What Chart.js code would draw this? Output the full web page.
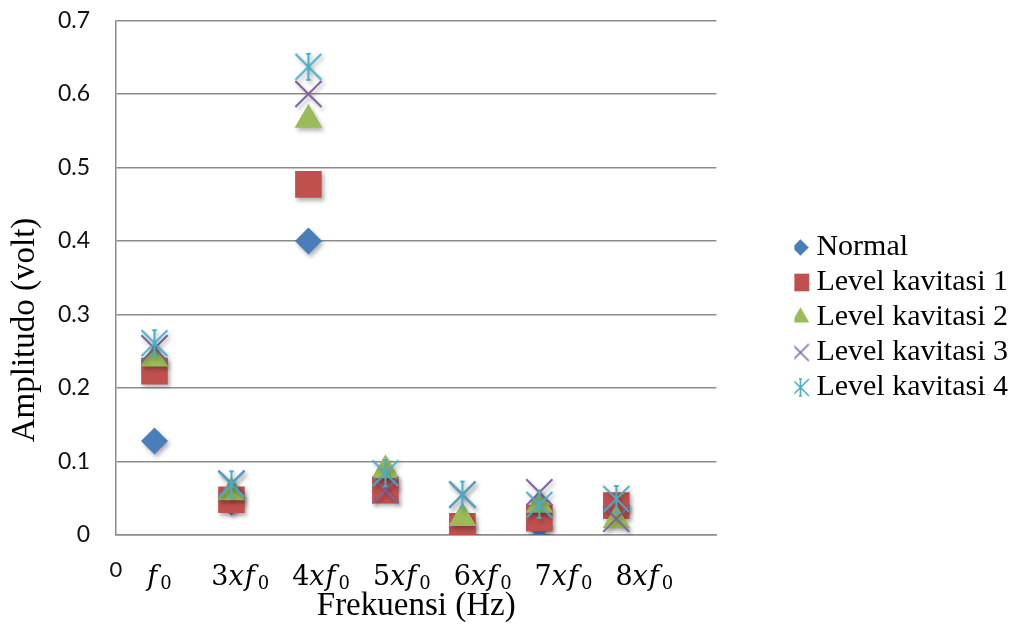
<!DOCTYPE html>
<html>
<head>
<meta charset="utf-8">
<title>Amplitudo vs Frekuensi</title>
<script src="https://cdn.jsdelivr.net/npm/chart.js@4.4.1/dist/chart.umd.min.js"></script>
<style>
  html, body { margin: 0; padding: 0; background: #fff; }
  #wrap { width: 1027px; height: 635px; }
</style>
</head>
<body>
<div id="wrap"><canvas id="chart" width="1027" height="635"></canvas></div>
<script>
// Harmonic positions on the frequency axis and the label under each one
const xPos = [0.5, 1.5, 2.5, 3.5, 4.5, 5.5, 6.5];
const xLabels = ['f0', '3xf0', '4xf0', '5xf0', '6xf0', '7xf0', '8xf0'];
const yTicks = [0, 0.1, 0.2, 0.3, 0.4, 0.5, 0.6, 0.7];

// Amplitude (volt) per harmonic
const normal    = [0.128, 0.045, 0.400, 0.065, 0.010, 0.013, 0.040];
const kavitasi1 = [0.223, 0.048, 0.477, 0.061, 0.012, 0.023, 0.040];
const kavitasi2 = [0.240, 0.058, 0.565, 0.088, 0.023, 0.041, 0.020];
const kavitasi3 = [0.254, 0.070, 0.600, 0.061, 0.055, 0.058, 0.022];
const kavitasi4 = [0.261, 0.069, 0.637, 0.084, 0.055, 0.041, 0.049];

const seriesNames = ['Normal', 'Level kavitasi 1', 'Level kavitasi 2', 'Level kavitasi 3', 'Level kavitasi 4'];
const colors = ['#4a7ebb', '#c0504d', '#9bbb59', '#8064a2', '#4bacc6'];

const GRID = '#8c8c8c';
const SERIF = '"Liberation Serif", "Times New Roman", serif';

// Excel-like star marker: vertical bar + X with tiny caps
function asteriskCanvas(size, color, lineWidth) {
    const n = size + 4;
    const c = document.createElement('canvas');
    c.width = c.height = n;
    const g = c.getContext('2d');
    const m = n / 2, h = size / 2;
    g.strokeStyle = color;
    g.lineWidth = lineWidth;
    g.beginPath();
    g.moveTo(m, m - h); g.lineTo(m, m + h);
    g.moveTo(m - h, m - h); g.lineTo(m + h, m + h);
    g.moveTo(m + h, m - h); g.lineTo(m - h, m + h);
    g.moveTo(m - h * 0.18, m - h); g.lineTo(m + h * 0.18, m - h);
    g.moveTo(m - h * 0.18, m + h); g.lineTo(m + h * 0.18, m + h);
    g.stroke();
    return c;
}

// Small marker images for the legend (the legend otherwise uses one radius for all)
function markerCanvas(style, radius, color, lineWidth) {
    const n = Math.ceil(radius * 2 + 4);
    const c = document.createElement('canvas');
    c.width = c.height = n;
    const g = c.getContext('2d');
    g.fillStyle = color;
    g.strokeStyle = color;
    g.lineWidth = lineWidth;
    Chart.helpers.drawPoint(g, { pointStyle: style, radius: radius, borderWidth: lineWidth, rotation: 0 }, n / 2, n / 2);
    return c;
}

const legendMarkers = [
    markerCanvas('rectRot', 8.3, colors[0], 0),
    markerCanvas('rect', 12.5, colors[1], 0),
    markerCanvas('triangle', 10.2, colors[2], 0),
    markerCanvas('crossRot', 12, colors[3], 1.6),
    asteriskCanvas(17, colors[4], 1.6)
];

const toPoints = (vals) => xPos.map((x, i) => ({ x: x, y: vals[i] }));

const datasets = [
    { label: seriesNames[0], data: toPoints(normal),    pointStyle: 'rectRot',  pointRadius: 13.5, pointBorderWidth: 0, order: 5 },
    { label: seriesNames[1], data: toPoints(kavitasi1), pointStyle: 'rect',     pointRadius: 18.8, pointBorderWidth: 0, order: 4 },
    { label: seriesNames[2], data: toPoints(kavitasi2), pointStyle: 'triangle', pointRadius: 16,   pointBorderWidth: 0, order: 3 },
    { label: seriesNames[3], data: toPoints(kavitasi3), pointStyle: 'crossRot', pointRadius: 18.5, pointBorderWidth: 2, order: 2 },
    { label: seriesNames[4], data: toPoints(kavitasi4), pointStyle: asteriskCanvas(26, colors[4], 2), pointRadius: 13, pointBorderWidth: 0, order: 1 }
];
datasets.forEach((ds, i) => {
    ds.backgroundColor = colors[i];
    ds.borderColor = colors[i];
    ds.pointBackgroundColor = colors[i];
    ds.pointBorderColor = colors[i];
    ds.showLine = false;
});

// soft drop shadow under the markers
const markerShadow = {
    id: 'markerShadow',
    beforeDatasetsDraw(chart) {
        const ctx = chart.ctx;
        ctx.save();
        ctx.shadowColor = 'rgba(0, 0, 0, 0.3)';
        ctx.shadowBlur = 4;
        ctx.shadowOffsetX = 2;
        ctx.shadowOffsetY = 3;
    },
    afterDatasetsDraw(chart) {
        chart.ctx.restore();
    }
};

// Math-style labels under each harmonic: upright digit, italic x and f, subscript 0
const LABEL_SPREAD = 1.05;
const harmonicLabels = {
    id: 'harmonicLabels',
    afterDraw(chart) {
        const ctx = chart.ctx;
        const xs = chart.scales.x;
        const baseline = chart.chartArea.bottom + 50;
        const mainFont = '27px "DejaVu Serif", serif';
        const italFont = 'italic 27px "DejaVu Serif", serif';
        const subFont = '18px "DejaVu Serif", serif';
        ctx.save();
        ctx.fillStyle = '#000';
        ctx.textBaseline = 'alphabetic';
        ctx.textAlign = 'left';
        xLabels.forEach((lab, i) => {
            const m = lab.match(/^(\d*)(x?)f0$/);
            const parts = [];
            if (m[1]) parts.push({ t: m[1], font: mainFont, dy: 0, gap: 0 });
            if (m[2]) parts.push({ t: 'x', font: italFont, dy: 0, gap: 1 });
            parts.push({ t: 'f', font: italFont, dy: 0, gap: 3 });
            parts.push({ t: '0', font: subFont, dy: 4, gap: 0 });
            let w = 0;
            parts.forEach(p => { ctx.font = p.font; p.w = ctx.measureText(p.t).width + p.gap; w += p.w; });
            let x = xs.getPixelForValue(xPos[i] * LABEL_SPREAD) + 3 - w / 2;
            parts.forEach(p => {
                ctx.font = p.font;
                ctx.fillText(p.t, x, baseline + p.dy);
                x += p.w;
            });
        });
        ctx.restore();
    }
};

// Rotated y-axis title, sitting lower than the plot centre as in the figure
const yTitle = {
    id: 'yTitle',
    afterDraw(chart) {
        const ctx = chart.ctx;
        ctx.save();
        ctx.translate(25, chart.chartArea.bottom - 205);
        ctx.rotate(-Math.PI / 2);
        ctx.font = '33px ' + SERIF;
        ctx.fillStyle = '#000';
        ctx.textAlign = 'center';
        ctx.textBaseline = 'middle';
        ctx.fillText('Amplitudo (volt)', 0, 0);
        ctx.restore();
    }
};

// Move the legend block right of the plot and slightly up, as in the figure
const LEGEND_SHIFT_X = 78;
const LEGEND_SHIFT_Y = -10;
const legendShift = {
    id: 'legendShift',
    afterLayout(chart) {
        const lg = chart.legend;
        if (!lg) return;
        lg.left += LEGEND_SHIFT_X;
        lg.right += LEGEND_SHIFT_X;
        lg.top += LEGEND_SHIFT_Y;
        lg.bottom += LEGEND_SHIFT_Y;
    }
};

new Chart(document.getElementById('chart'), {
    type: 'scatter',
    data: { datasets: datasets },
    plugins: [markerShadow, harmonicLabels, yTitle, legendShift],
    options: {
        responsive: false,
        devicePixelRatio: 1,
        animation: false,
        events: [],
        layout: { padding: { top: 20, right: 87, bottom: 0, left: 0 } },
        scales: {
            x: {
                type: 'linear',
                min: 0,
                max: 7.8,
                afterFit: (scale) => { scale.height = 100; },
                afterBuildTicks: (scale) => { scale.ticks = [{ value: 0 }]; },
                grid: { display: false, drawTicks: false },
                border: { display: true, color: GRID, width: 1.5 },
                ticks: {
                    padding: 22,
                    color: '#111',
                    font: { family: 'Lato', size: 22 },
                    callback: () => '0'
                },
                title: {
                    display: true,
                    text: 'Frekuensi (Hz)',
                    color: '#000',
                    font: { family: SERIF, size: 33 },
                    padding: { top: 0, bottom: 9 }
                }
            },
            y: {
                min: 0,
                max: 0.7,
                afterFit: (scale) => { scale.width = 116; },
                afterBuildTicks: (scale) => { scale.ticks = yTicks.map(v => ({ value: v })); },
                // gap between labels and axis comes from an invisible tick mark,
                // so the tick padding does not push the plot top down
                grid: { color: GRID, lineWidth: 1.5, drawTicks: true, tickLength: 26, tickColor: 'rgba(0,0,0,0)' },
                border: { display: true, color: GRID, width: 1.5 },
                ticks: {
                    padding: 0,
                    color: '#111',
                    font: { family: 'Lato', size: 23 },
                    callback: (v) => (v === 0 ? '0' : v.toFixed(1))
                }
            }
        },
        plugins: {
            tooltip: { enabled: false },
            legend: {
                position: 'right',
                align: 'center',
                labels: {
                    usePointStyle: true,
                    boxWidth: 2,
                    boxHeight: 12,
                    padding: 5,
                    color: '#000',
                    font: { family: SERIF, size: 30 },
                    sort: (a, b) => a.datasetIndex - b.datasetIndex,
                    generateLabels(chart) {
                        const items = Chart.defaults.plugins.legend.labels.generateLabels(chart);
                        items.forEach(it => {
                            it.pointStyle = legendMarkers[it.datasetIndex];
                            it.fontColor = '#000';
                        });
                        return items;
                    }
                }
            }
        }
    }
});
</script>
</body>
</html>
